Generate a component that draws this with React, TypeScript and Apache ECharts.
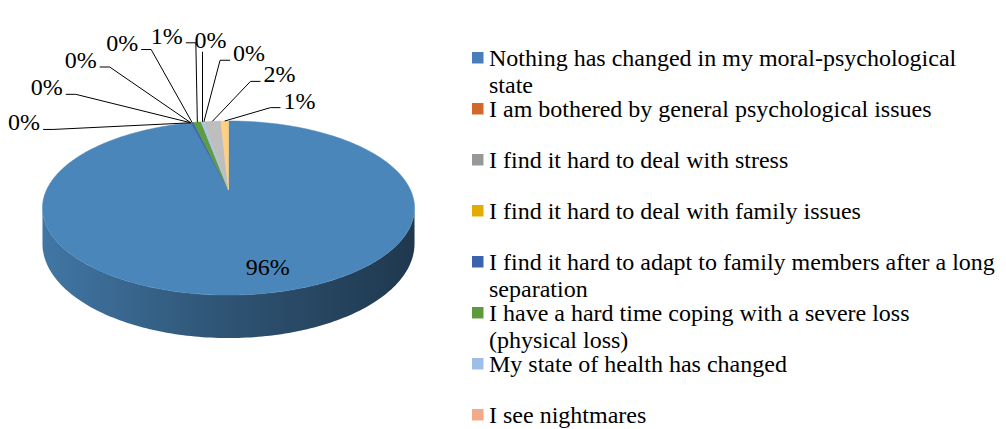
import React, { useEffect, useRef } from "react";
import * as echarts from "echarts";

// ---- data ----
const categories = [
  "Nothing has changed in my moral-psychological state",
  "I am bothered by general psychological issues",
  "I find it hard to deal with stress",
  "I find it hard to deal with family issues",
  "I find it hard to adapt to family members after a long separation",
  "I have a hard time coping with a severe loss (physical loss)",
  "My state of health has changed",
  "I see nightmares",
];
// slices clockwise from 12 o'clock; -1 = category whose legend entry is outside the picture
const sliceCategory = [0, -1, -1, 1, 4, 5, 6, 7, 2, 3];
const sliceValues = [96.0, 0, 0, 0, 0.3, 0.8, 0.3, 0, 1.8, 0.8];

// ---- styles ----
const legendColors = ["#4a7ebb", "#d2692a", "#989898", "#e4ab00", "#3b63ad", "#5e9a3d", "#9dbfe7", "#f2aa8a"];
const faceColors = ["#4a86ba", "#e07a3a", "#bebebe", "#fed07f", "#3d66b0", "#5f9c3f", "#a8c6ea", "#f6b9a0"];
const FONT = "Liberation Serif";
const FS = 24;
const LEGEND_WRAP = 510;

// ---- geometry of the tilted pie ----
const CX = 228.5, CY = 190, A = 182, B = 83.3, K = 0.207, H = 34.1;
const proj = (t: number, rho: number, h: number) => {
  const a = rho * Math.sin(t);
  const b = -rho * Math.cos(t);
  const w = 1 - K * b;
  return [CX + (A * a) / w, CY + (B * b + h) / w];
};
const TR = Math.acos(-K);
const TL = 2 * Math.PI - TR;
const HALFW = A / Math.sqrt(1 - K * K);

const total = sliceValues.reduce((s, v) => s + v, 0);
const starts: number[] = [];
const ends: number[] = [];
{
  let acc = 0;
  sliceValues.forEach((v) => {
    starts.push((acc / total) * 2 * Math.PI);
    acc += v;
    ends.push((acc / total) * 2 * Math.PI);
  });
}
const outsideIdx = sliceValues.map((v, i) => (v / total > 0.1 ? -1 : i)).filter((i) => i >= 0);

function shade(hex: string, f: number) {
  const n = parseInt(hex.slice(1), 16);
  const r = Math.round(((n >> 16) & 255) * f);
  const g = Math.round(((n >> 8) & 255) * f);
  const b = Math.round((n & 255) * f);
  return `rgb(${r},${g},${b})`;
}
function arc(s: number, e: number, h: number) {
  const n = Math.max(2, Math.ceil((e - s) / (Math.PI / 180)) + 1);
  const pts: number[][] = [];
  for (let j = 0; j < n; j++) pts.push(proj(s + ((e - s) * j) / (n - 1), 1, h));
  return pts;
}
const textW = (s: string) =>
  s.split("").reduce((w, c) => w + (c === "%" ? 0.833 : 0.5), 0) * FS;

function wrap(text: string, maxW: number) {
  const ctx = document.createElement("canvas").getContext("2d")!;
  ctx.font = `${FS}px "${FONT}"`;
  const words = text.split(" ");
  const lines: string[] = [];
  let cur = "";
  words.forEach((w) => {
    const t = cur ? cur + " " + w : w;
    if (cur && ctx.measureText(t).width > maxW) {
      lines.push(cur);
      cur = w;
    } else cur = t;
  });
  if (cur) lines.push(cur);
  return lines.join("\n");
}

function renderItem(params: any) {
  const i = params.dataIndex;
  const s = starts[i];
  const e = ends[i];
  const cat = sliceCategory[i];
  const color = cat >= 0 ? faceColors[cat] : "#a0a0a0";
  const children: any[] = [];
  if (e > s) {
    children.push({
      type: "polygon",
      z2: 2,
      shape: { points: [proj(0, 0, 0), ...arc(s, e, 0)] },
      style: { fill: color, stroke: color, lineWidth: 0.5 },
    });
    const vs = Math.max(s, TR);
    const ve = Math.min(e, TL);
    if (ve > vs) {
      const pts = [...arc(vs, ve, 0), ...arc(vs, ve, H).reverse()];
      children.push({
        type: "polygon",
        z2: 1,
        shape: { points: pts },
        style: {
          fill: new echarts.graphic.LinearGradient(
            CX - HALFW, 0, CX + HALFW, 0,
            [
              { offset: 0, color: shade(color, 0.88) },
              { offset: 0.5, color: shade(color, 0.62) },
              { offset: 1, color: shade(color, 0.42) },
            ],
            true
          ),
        },
      });
    }
  }
  const pct = Math.round((sliceValues[i] / total) * 100) + "%";
  const mid = (s + e) / 2;
  const j = outsideIdx.indexOf(i);
  if (j < 0) {
    const p = proj(mid, 0.78, 0);
    children.push({
      type: "text",
      z2: 5,
      x: p[0] + 18,
      y: p[1],
      style: { text: pct, fontSize: FS, fontFamily: FONT, fill: "#000", align: "center", verticalAlign: "middle" },
    });
  } else {
    // fan the outside labels over an arc above the pie
    const n = outsideIdx.length;
    const f = n > 1 ? j / (n - 1) : 0.5;
    const phi = ((-78 + 138 * f) * Math.PI) / 180;
    const sc = 1.06 - 0.27 * f;
    const lx = 190 + 160 * sc * Math.sin(phi);
    const ly = 150 - 125 * sc * Math.cos(phi);
    const anchor = proj(mid, 1, 0);
    const tw = textW(pct);
    let pts: number[][];
    if (anchor[0] > lx + tw / 2 + 4) {
      const st = [lx + tw / 2 + 3, ly + 7];
      pts = [st, [st[0] + 10, st[1]], anchor];
    } else if (anchor[0] < lx - tw / 2 - 4) {
      const st = [lx - tw / 2 - 3, ly + 7];
      pts = [st, [st[0] - 10, st[1]], anchor];
    } else {
      pts = [[anchor[0], ly + 12], anchor];
    }
    children.push({
      type: "polyline",
      z2: 4,
      shape: { points: pts },
      style: { stroke: "#000", lineWidth: 1, fill: null },
    });
    children.push({
      type: "text",
      z2: 5,
      x: lx,
      y: ly,
      style: { text: pct, fontSize: FS, fontFamily: FONT, fill: "#000", align: "center", verticalAlign: "middle" },
    });
  }
  return { type: "group", children };
}

export default function App() {
  const ref = useRef<HTMLDivElement>(null);
  useEffect(() => {
    document.body.style.margin = "0";
    const chart = echarts.init(ref.current!, undefined, { renderer: "svg" });
    const legend = categories.map((name, i) => {
      const cy = 58 + 51 * i;
      return {
        type: "group",
        children: [
          {
            type: "rect",
            shape: { x: 472, y: cy - 6, width: 11.5, height: 11.5 },
            style: { fill: legendColors[i] },
          },
          {
            type: "text",
            x: 489,
            y: cy - 13.5,
            style: {
              text: wrap(name, LEGEND_WRAP),
              fontSize: FS,
              fontFamily: FONT,
              fill: "#000",
              lineHeight: 27,
              verticalAlign: "top",
              align: "left",
            },
          },
        ],
      };
    });
    chart.setOption({
      animation: false,
      backgroundColor: "#fff",
      textStyle: { fontFamily: FONT },
      series: [
        {
          type: "custom",
          coordinateSystem: "none",
          renderItem,
          data: sliceValues.map((v, i) => [i, v]),
        },
      ],
      graphic: legend,
    });
    return () => chart.dispose();
  }, []);
  return <div ref={ref} style={{ width: 1006, height: 429 }} />;
}
